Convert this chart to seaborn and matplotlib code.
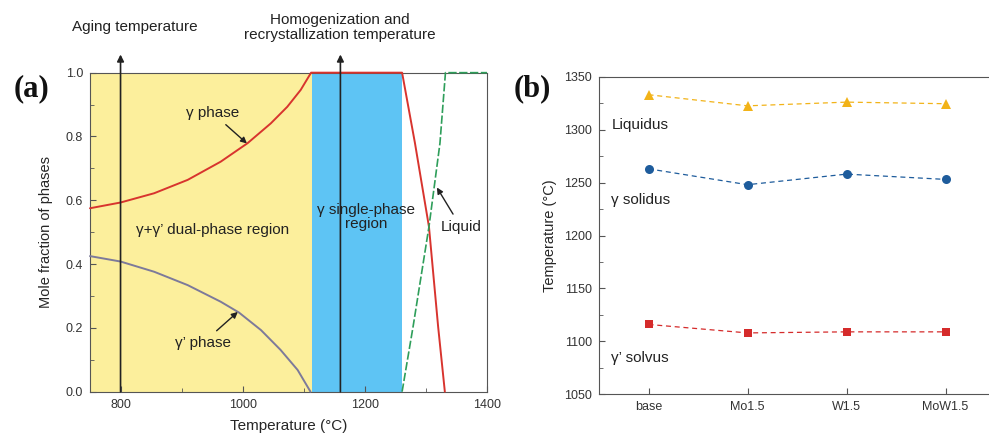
import numpy as np
import pandas as pd
import matplotlib
matplotlib.use("Agg")
import matplotlib.pyplot as plt
from matplotlib.ticker import MultipleLocator, FormatStrFormatter
import seaborn as sns

# ---------------- data : panel (a) ----------------
gp_T = [750, 800, 855, 910, 964, 994, 1030, 1062, 1090, 1111]
gp_frac = [0.425, 0.408, 0.376, 0.334, 0.282, 0.248, 0.193, 0.131, 0.068, 0.0]

g_T = [750, 800, 855, 910, 964, 1008, 1046, 1073, 1095, 1112, 1261, 1282, 1305, 1320, 1331]
g_frac = [0.575, 0.593, 0.622, 0.664, 0.721, 0.779, 0.841, 0.893, 0.946, 1.0,
          1.0, 0.78, 0.517, 0.204, 0.0]

liq_T = [1261, 1279, 1305, 1323, 1332, 1400]
liq_frac = [0.0, 0.204, 0.517, 0.779, 1.0, 1.0]

dual_region = [750, 1113]
single_region = [1113, 1261]
aging_T = 800
homog_T = 1160

# ---------------- data : panel (b) ----------------
alloys = ["base", "Mo1.5", "W1.5", "MoW1.5"]
liquidus = [1333, 1322.5, 1326, 1324.5]
solidus = [1263, 1248, 1258, 1253]
solvus = [1116, 1108, 1109, 1109]

# ---------------- style ----------------
sns.set_style("ticks")
plt.rcParams["font.family"] = ["Liberation Sans", "DejaVu Sans"]
plt.rcParams["axes.edgecolor"] = "#555555"
plt.rcParams["xtick.color"] = "#555555"
plt.rcParams["ytick.color"] = "#555555"
plt.rcParams["xtick.labelcolor"] = "#333333"
plt.rcParams["ytick.labelcolor"] = "#333333"
plt.rcParams["text.color"] = "#222222"

fig = plt.figure(figsize=(9.89, 4.45), dpi=100)
ax = fig.add_axes([0.091, 0.1198, 0.4014, 0.7169])
bx = fig.add_axes([0.6057, 0.1139, 0.4004, 0.7137])

# ---------------- panel (a) ----------------
ax.axvspan(dual_region[0], dual_region[1], color="#FCEF9C", lw=0, zorder=0)
ax.axvspan(single_region[0], single_region[1], color="#5EC4F4", lw=0, zorder=0)

sns.lineplot(x=gp_T, y=gp_frac, ax=ax, color="#7D7A9A", lw=1.4, zorder=3,
             clip_on=False)
sns.lineplot(x=g_T, y=g_frac, ax=ax, color="#D8342E", lw=1.4, zorder=4,
             clip_on=False)
sns.lineplot(x=liq_T, y=liq_frac, ax=ax, color="#2E9E5A", lw=1.2, zorder=4,
             linestyle=(0, (5, 1.5)), clip_on=False)

ax.set_xlim(750, 1400)
ax.set_ylim(0, 1.0)
ax.xaxis.set_major_locator(MultipleLocator(200))
ax.xaxis.set_minor_locator(MultipleLocator(100))
ax.yaxis.set_major_locator(MultipleLocator(0.2))
ax.yaxis.set_minor_locator(MultipleLocator(0.1))
ax.tick_params(which="both", direction="in", labelsize=9, pad=5)
ax.tick_params(which="major", length=4)
ax.tick_params(which="minor", length=3)
ax.yaxis.set_major_formatter(FormatStrFormatter("%.1f"))
ax.set_xlabel("Temperature (°C)", fontsize=11, labelpad=6)
ax.set_ylabel("Mole fraction of phases", fontsize=10.5, labelpad=9)

for T in (aging_T, homog_T):
    ax.annotate("", xy=(T, 1.057), xytext=(T, 0), annotation_clip=False,
                arrowprops=dict(arrowstyle="-|>", color="#222222", lw=1.2,
                                mutation_scale=10, shrinkA=0, shrinkB=0),
                zorder=5)

arrow_kw = dict(arrowstyle="-|>", color="#222222", lw=1.0, mutation_scale=9,
                shrinkA=2, shrinkB=0)
ax.annotate("γ phase", xy=(1007, 0.778), xytext=(950, 0.875), fontsize=11,
            ha="center", va="center", arrowprops=arrow_kw)
ax.annotate("γ’ phase", xy=(992, 0.25), xytext=(935, 0.153), fontsize=11,
            ha="center", va="center", arrowprops=arrow_kw)
ax.annotate("Liquid", xy=(1318, 0.64), xytext=(1357, 0.517), fontsize=11,
            ha="center", va="center", arrowprops=arrow_kw)
ax.text(950, 0.507, "γ+γ’ dual-phase region", fontsize=11, ha="center", va="center")
ax.text(1202, 0.547, "γ single-phase\nregion", fontsize=11, ha="center",
        va="center", linespacing=1.0)

fig.text(0.1365, 0.939, "Aging temperature", fontsize=11, ha="center", va="center")
fig.text(0.344, 0.938, "Homogenization and\nrecrystallization temperature",
         fontsize=11, ha="center", va="center", linespacing=1.15)

fig.text(0.032, 0.80, "(a)", fontsize=22, fontweight="bold",
         family=["Liberation Serif", "DejaVu Serif"], ha="center", va="center",
         color="#111111")
fig.text(0.538, 0.80, "(b)", fontsize=22, fontweight="bold",
         family=["Liberation Serif", "DejaVu Serif"], ha="center", va="center",
         color="#111111")

# ---------------- panel (b) ----------------
pos = np.arange(len(alloys))
series = [
    ("Liquidus", liquidus, "#F2B318", "^", 7),
    ("γ solidus", solidus, "#1E5C9C", "o", 6.5),
    ("γ’ solvus", solvus, "#D52B2B", "s", 6),
]
for name, vals, col, mk, ms in series:
    sns.lineplot(x=pos, y=vals, ax=bx, color=col, lw=0.9, linestyle=(0, (4, 3)),
                 marker=mk, markersize=ms, markeredgewidth=0, zorder=3)

bx.set_xlim(-0.5, 3.5)
bx.set_ylim(1050, 1350)
bx.set_xticks(pos)
bx.set_xticklabels(alloys)
bx.yaxis.set_major_locator(MultipleLocator(50))
bx.yaxis.set_minor_locator(MultipleLocator(25))
bx.tick_params(which="both", direction="in", labelsize=9, pad=5)
bx.tick_params(which="major", length=4)
bx.tick_params(which="minor", length=3)
bx.tick_params(axis="x", which="minor", bottom=False)
bx.spines["right"].set_visible(False)
bx.set_ylabel("Temperature (°C)", fontsize=10.5, labelpad=5)
bx.set_xlabel("")

bx.text(-0.37, 1304, "Liquidus", fontsize=11, ha="left", va="center")
bx.text(-0.38, 1234, "γ solidus", fontsize=11, ha="left", va="center")
bx.text(-0.38, 1084, "γ’ solvus", fontsize=11, ha="left", va="center")

fig.savefig("out.png", dpi=100)
